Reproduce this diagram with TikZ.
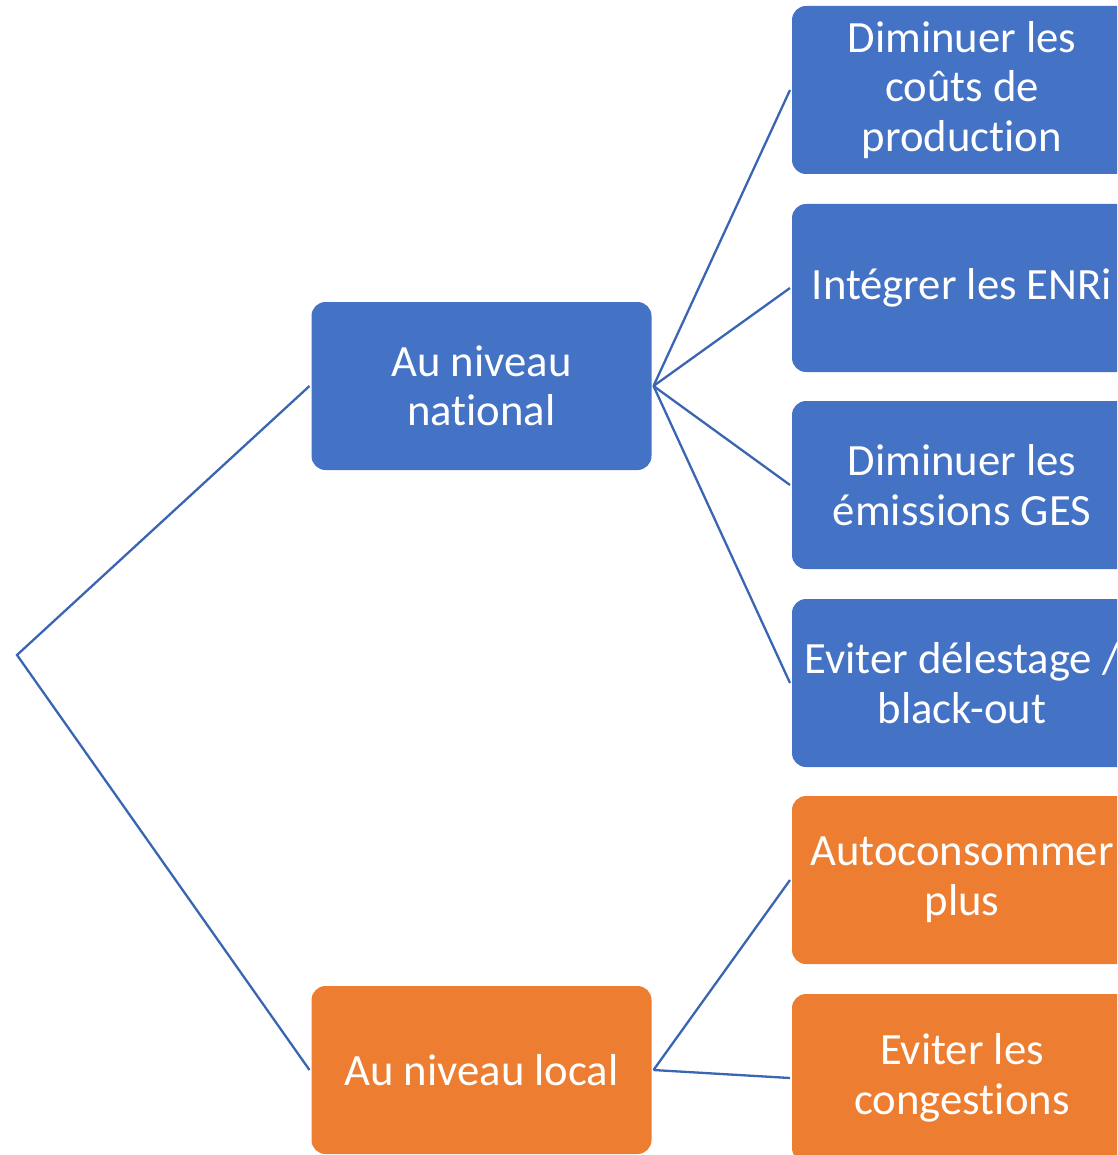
\documentclass[tikz,border=0pt]{standalone}
\usepackage{fontspec}
\setmainfont{Carlito}[Ligatures=NoCommon]
\definecolor{cblue}{HTML}{4472C4}
\definecolor{corange}{HTML}{ED7D31}
\definecolor{cline}{HTML}{3A65B2}
\begin{document}
\begin{tikzpicture}[x=1pt,y=-1pt,
  box/.style={rounded corners=14pt, minimum width=340pt, minimum height=168pt,
    inner sep=0pt, outer sep=2pt, align=center, text=white,
    font=\fontsize{44.7}{49.5}\selectfont},
  bluebox/.style={box, fill=cblue},
  orangebox/.style={box, fill=corange},
  link/.style={draw=cline, line width=2.3pt}]
\useasboundingbox (0,0) rectangle (1117,1155);
\clip (0,0) rectangle (1117,1155);
\coordinate (root) at (17,655);
\node[bluebox] (nat) at (481.5,386) {Au niveau\\national};
\node[orangebox] (loc) at (481.5,1070) {Au niveau local};
\node[bluebox] (r1) at (962,90) {Diminuer les\\coûts de\\production};
\node[bluebox] (r2) at (962,288) {Intégrer les ENRi};
\node[bluebox] (r3) at (962,485) {Diminuer les\\émissions GES};
\node[bluebox] (r4) at (962,683) {Eviter délestage /\\black-out};
\node[orangebox] (r5) at (962,880) {Autoconsommer\\plus};
\node[orangebox] (r6) at (962,1078) {Eviter les\\congestions};
\draw[link] (nat.west) -- (root) -- (loc.west);
\foreach \r in {r1,r2,r3,r4} \draw[link] (nat.east) -- (\r.west);
\foreach \r in {r5,r6} \draw[link] (loc.east) -- (\r.west);
\end{tikzpicture}
\end{document}
